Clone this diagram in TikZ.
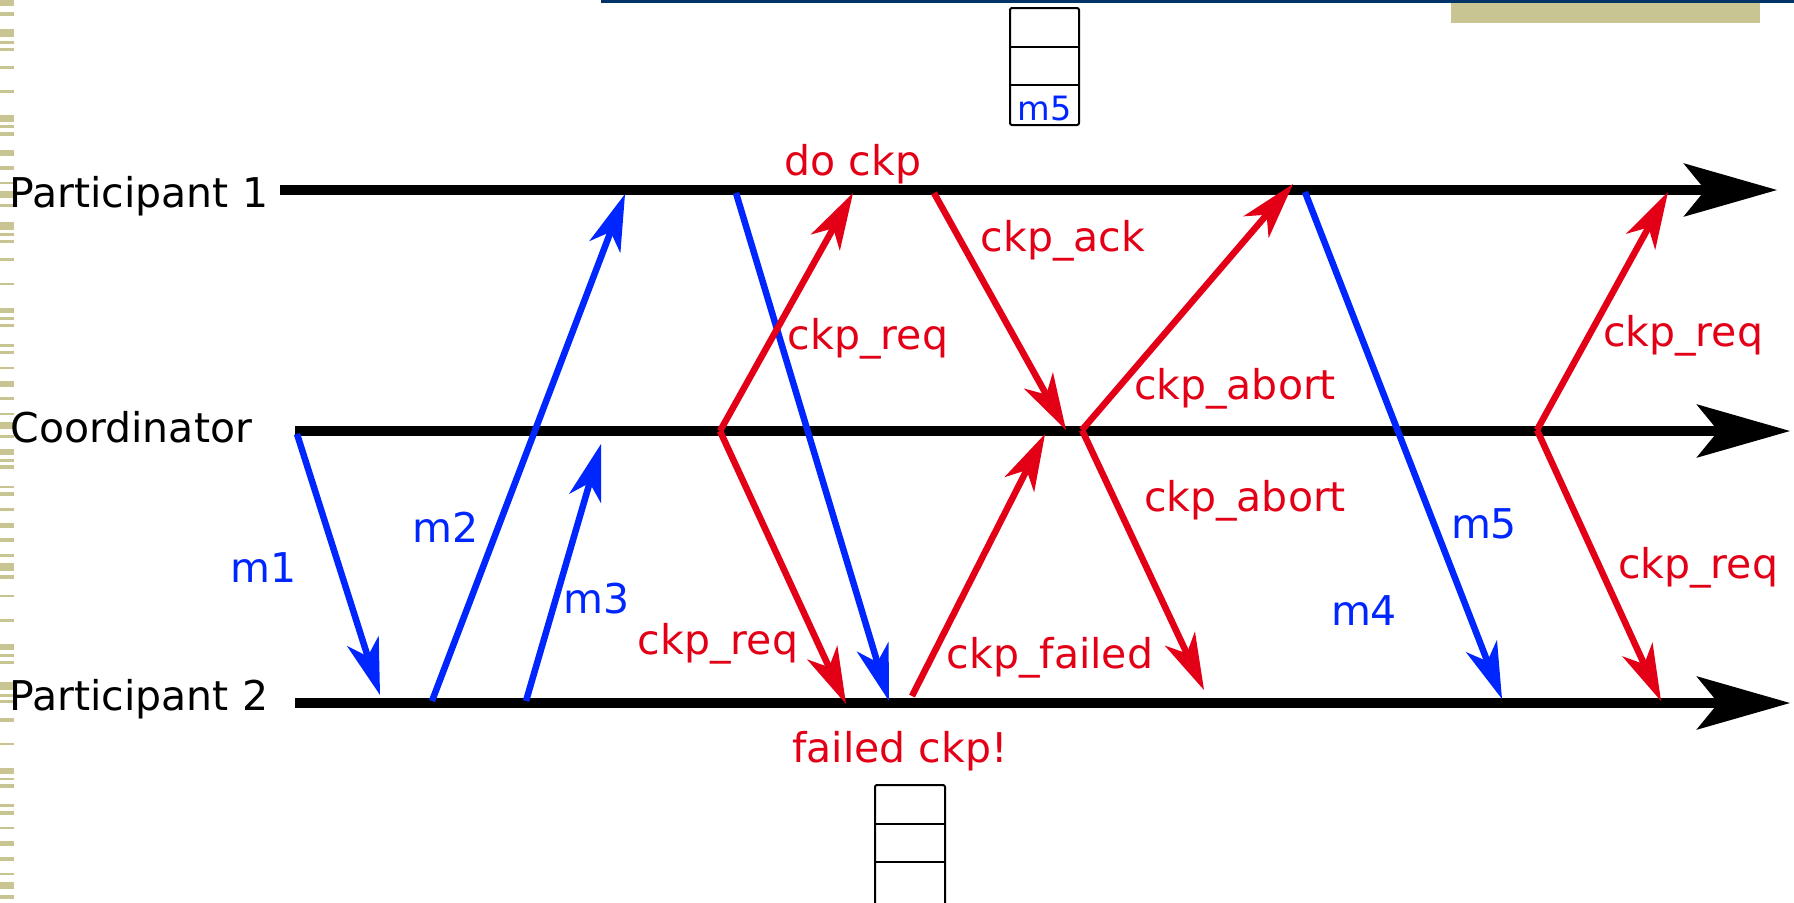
\documentclass[tikz,border=0pt]{standalone}
\usepackage{fontspec}
\setmainfont{DejaVu Sans}
\usetikzlibrary{arrows.meta}
\definecolor{msgblue}{RGB}{0,38,255}
\definecolor{ckpred}{RGB}{227,0,22}
\definecolor{stripe}{RGB}{201,197,146}
\definecolor{navy}{RGB}{0,51,102}

\begin{document}
\begin{tikzpicture}[x=0.4pt,y=-0.4pt,
  lifeline/.style={line width=4pt,
    -{Stealth[length=37.5pt,width=21.5pt,inset=8.8pt,line width=0pt]}},
  msg/.style={line width=2.6pt,
    -{Stealth[length=22.8pt,width=13.4pt,inset=6.6pt,line width=0pt]}},
  appmsg/.style={msg,draw=msgblue},
  ctlmsg/.style={msg,draw=ckpred},
  lbl/.style={inner sep=0pt,anchor=mid,font=\fontsize{16.4pt}{19pt}\selectfont},
  proc/.style={lbl,anchor=mid west,text=black},
  bluelbl/.style={lbl,text=msgblue},
  redlbl/.style={lbl,text=ckpred},
  queue/.style={draw=black,line width=0.8pt,rounded corners=0.8pt},
  cell/.style={draw=black,line width=0.8pt}
]
\useasboundingbox (0,0) rectangle (1794,902);

% page decoration: striped left margin, header rule and tab
\foreach \a/\b in {0/6,12/16,29/37,41/44,48/51,66/69,90/93,115/122,125/128,
  132/136,150/156,166/170,182/184,191/198,204/207,222/230,233/236,240/243,
  258/261,283/285,308/313,317/320,324/327,344/347,351/354,367/369,381/387,
  397/400,413/415,422/429,435/438,449/455,459/462,465/469,486/488,492/496,
  508/511,523/528,538/542,554/557,563/571,575/579,595/597,619/622,644/650,
  654/657,661/664,682/690,694/697,700/703,718/722,743/745,768/774,778/780,
  784/788,804/807,811/815,827/829,841/846,857/861,873/875,882/889,895/899}
  \fill[stripe] (0,\a) rectangle (13.5,\b);
\fill[stripe] (1451,0) rectangle (1760,23);
\fill[navy] (601,0) rectangle (1794,2.6);

% message queues
\draw[queue] (1010,8) rectangle (1079,125);
\draw[cell] (1010,47) -- (1079,47);
\draw[cell] (1010,85) -- (1079,85);
\node[lbl,anchor=base,text=msgblue,font=\fontsize{13.4pt}{16pt}\selectfont] (qm5) at (1044.5,120) {m5};
\draw[queue] (875,905) -- (875,785) -- (945,785) -- (945,905);
\draw[cell] (875,824) -- (945,824);
\draw[cell] (875,862) -- (945,862);

% process names
\node[proc] (n1) at (9,201) {Participant 1};
\node[proc] (nc) at (10,436) {Coordinator};
\node[proc] (n2) at (9,704) {Participant 2};

% time lines
\coordinate (p1s) at (280,190);  \coordinate (p1e) at (1777,190);
\coordinate (cos) at (295,431);  \coordinate (coe) at (1790,431);
\coordinate (p2s) at (295,703);  \coordinate (p2e) at (1790,703);
\draw[lifeline] (p1s) -- (p1e);
\draw[lifeline] (cos) -- (coe);
\draw[lifeline] (p2s) -- (p2e);

% application messages
\coordinate (m1a) at (297,434);  \coordinate (m1b) at (380,695);
\coordinate (m2a) at (432,701);  \coordinate (m2b) at (625,194);
\coordinate (m3a) at (526,701);  \coordinate (m3b) at (601,444);
\coordinate (m4a) at (736,193);  \coordinate (m4b) at (889,701);
\coordinate (m5a) at (1305,192); \coordinate (m5b) at (1502,699);
\draw[appmsg] (m1a) -- (m1b);
\draw[appmsg] (m2a) -- (m2b);
\draw[appmsg] (m3a) -- (m3b);
\draw[appmsg] (m4a) -- (m4b);
\draw[appmsg] (m5a) -- (m5b);

% checkpoint protocol
\coordinate (r1) at (720,431);
\coordinate (r1u) at (853,193);  \coordinate (r1d) at (846,704);
\coordinate (aka) at (934,193);  \coordinate (akb) at (1066,430);
\coordinate (fla) at (912,696);  \coordinate (flb) at (1045,434);
\coordinate (ab) at (1082,430);
\coordinate (abu) at (1293,184); \coordinate (abd) at (1204,690);
\coordinate (r2) at (1537,430);
\coordinate (r2u) at (1668,192); \coordinate (r2d) at (1661,701);
\draw[ctlmsg] (r1) -- (r1u);
\draw[ctlmsg] (r1) -- (r1d);
\draw[ctlmsg] (aka) -- (akb);
\draw[ctlmsg] (fla) -- (flb);
\draw[ctlmsg] (ab) -- (abu);
\draw[ctlmsg] (ab) -- (abd);
\draw[ctlmsg] (r2) -- (r2u);
\draw[ctlmsg] (r2) -- (r2d);

% labels
\node[bluelbl] (l1) at (264,576) {m1};
\node[bluelbl] (l2) at (446,536) {m2};
\node[bluelbl] (l3) at (597,607) {m3};
\node[bluelbl] (l4) at (1364,619) {m4};
\node[bluelbl] (l5) at (1484,532) {m5};
\node[redlbl] (tdo) at (853,169) {do ckp};
\node[redlbl] (tack) at (1063,245) {ckp\_ack};
\node[redlbl] (trq1) at (868,343) {ckp\_req};
\node[redlbl] (trq2) at (718,648) {ckp\_req};
\node[redlbl] (tab1) at (1235,393) {ckp\_abort};
\node[redlbl] (tab2) at (1245,505) {ckp\_abort};
\node[redlbl] (tfl) at (1050,662) {ckp\_failed};
\node[redlbl] (tff) at (900,756) {failed ckp!};
\node[redlbl] (trq3) at (1683,340) {ckp\_req};
\node[redlbl] (trq4) at (1698,572) {ckp\_req};
\end{tikzpicture}
\end{document}
